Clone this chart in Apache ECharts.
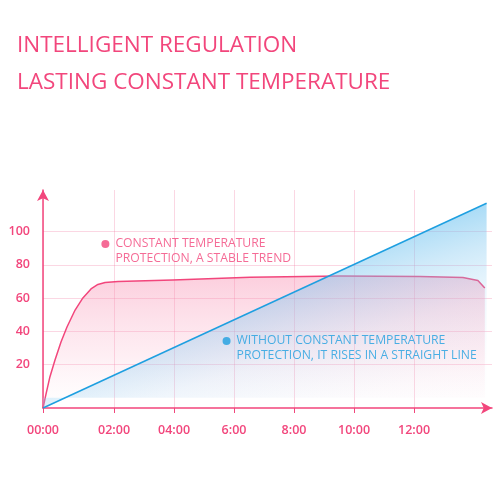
<!DOCTYPE html>
<html>
<head>
<meta charset="utf-8">
<script src="https://cdn.jsdelivr.net/npm/echarts@6/dist/echarts.min.js"></script>
<style>
html,body{margin:0;padding:0;background:#fff;}
#chart{width:500px;height:500px;}
</style>
</head>
<body>
<div id="chart"></div>
<script>
// ---- data ----
const titleLines = ['INTELLIGENT REGULATION', 'LASTING CONSTANT TEMPERATURE'];
const xTickHours = [0, 2, 4, 6, 8, 10, 12];
const xTickLabels = ['00:00', '02:00', '04:00', '6:00', '8:00', '10:00', '12:00'];
const yTickValues = [20, 40, 60, 80, 100];
// constant temperature curve [hour, value]
const constantTemp = [
  [-0.37, -6.2], [-0.27, 2.2], [-0.14, 12.5], [0.03, 22.7], [0.23, 33.6],
  [0.43, 42.6], [0.70, 52.8], [0.96, 60.1], [1.23, 65.5], [1.46, 68.2],
  [1.70, 69.4], [2.13, 70.0], [3.96, 70.9], [6.53, 72.5], [9.53, 73.3],
  [12.2, 73.0], [13.63, 72.4], [14.13, 70.6], [14.36, 66.1]
];
// without constant temperature: straight line
const noConstantTemp = [[-0.37, -6.2], [14.42, 117.1]];
const notes = [
  { name: 'CONSTANT TEMPERATURE\nPROTECTION, A STABLE TREND', value: [1.71, 92.6] },
  { name: 'WITHOUT CONSTANT TEMPERATURE\nPROTECTION, IT RISES IN A STRAIGHT LINE', value: [5.75, 34.2] }
];

// ---- styles ----
const PINK = '#f2467c';
const BLUE = '#1e9fe0';
const GRID = 'rgba(240,110,155,0.28)';
const X_MIN = -0.37, X_MAX = 14.6;
const Y_MIN = -6.2, Y_MAX = 125.1;
const FONT = '"Open Sans", sans-serif';

const chart = echarts.init(document.getElementById('chart'), null, { renderer: 'canvas' });

const xLabelPos = xTickHours.map(h => h === 0 ? X_MIN : h);

chart.setOption({
  animation: false,
  backgroundColor: '#ffffff',
  title: {
    text: titleLines.join('\n'),
    left: 17, top: 27, padding: 0,
    textStyle: { color: PINK, fontFamily: FONT, fontWeight: 'normal', fontSize: 22.5, lineHeight: 37 }
  },
  grid: { left: 43, right: 8, top: 190, bottom: 92 },
  xAxis: {
    type: 'value', min: X_MIN, max: X_MAX,
    axisLine: { show: true, onZero: false, symbol: ['none', 'arrow'], symbolSize: [9, 11], lineStyle: { color: PINK, width: 1.5 } },
    axisTick: { show: true, customValues: xLabelPos, length: 5, lineStyle: { color: PINK, width: 1 } },
    axisLabel: {
      customValues: xLabelPos, margin: 16, color: PINK, fontFamily: FONT, fontWeight: 600, fontSize: 12.5,
      formatter: v => xTickLabels[xLabelPos.indexOf(v)]
    },
    splitLine: { show: true, lineStyle: { color: GRID, width: 1 } }
  },
  yAxis: {
    type: 'value', min: Y_MIN, max: Y_MAX,
    axisLine: { show: true, onZero: false, symbol: ['none', 'arrow'], symbolSize: [9, 11], lineStyle: { color: PINK, width: 1.5 } },
    axisTick: { show: false, customValues: yTickValues },
    axisLabel: { customValues: yTickValues, margin: 13, color: PINK, fontFamily: FONT, fontWeight: 600, fontSize: 12.5 },
    splitLine: { show: true, lineStyle: { color: GRID, width: 1 } }
  },
  series: [
    {
      type: 'line', data: constantTemp, symbol: 'none', smooth: false, z: 1,
      lineStyle: { color: PINK, width: 1.5, join: 'round' },
      areaStyle: {
        color: new echarts.graphic.LinearGradient(0, 0, 0, 1, [
          { offset: 0, color: 'rgba(248,140,175,0.6)' },
          { offset: 0.6, color: 'rgba(250,175,200,0.3)' },
          { offset: 1, color: 'rgba(255,225,235,0.05)' }
        ])
      }
    },
    {
      type: 'line', data: noConstantTemp, symbol: 'none', z: 2,
      lineStyle: { width: 0 },
      areaStyle: {
        color: new echarts.graphic.LinearGradient(1, 0, 1.13, 0.94, [
          { offset: 0, color: 'rgba(110,195,240,0.85)' },
          { offset: 0.2, color: 'rgba(130,200,240,0.55)' },
          { offset: 0.45, color: 'rgba(150,210,245,0.22)' },
          { offset: 0.75, color: 'rgba(190,225,248,0.05)' },
          { offset: 1, color: 'rgba(210,236,250,0)' }
        ])
      }
    },
    {
      type: 'line', data: noConstantTemp, symbol: 'none', z: 3,
      lineStyle: { color: BLUE, width: 1.5 }
    },
    {
      type: 'scatter', z: 4, symbolSize: 8,
      data: notes.map((n, i) => ({
        name: n.name, value: n.value,
        itemStyle: { color: i === 0 ? PINK : BLUE },
        label: {
          show: true, position: 'right', distance: 6, offset: [0, 7.5],
          formatter: '{b}', color: i === 0 ? PINK : BLUE,
          fontFamily: FONT, fontSize: 12.2, lineHeight: 15, align: 'left'
        }
      }))
    }
  ]
});
</script>
</body>
</html>
